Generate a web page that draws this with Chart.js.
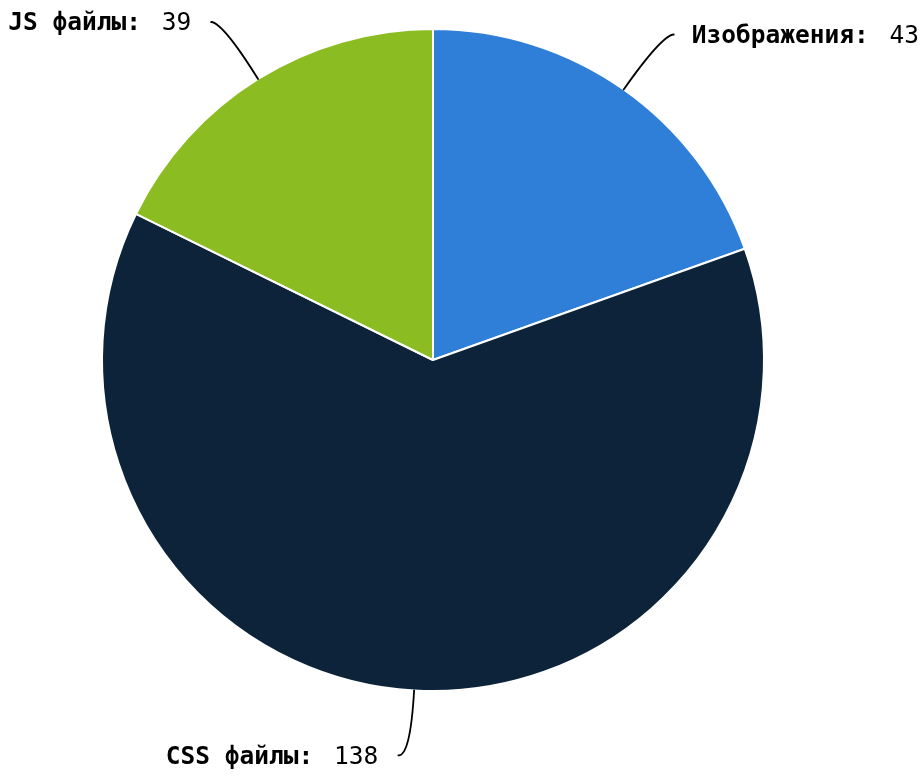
<!DOCTYPE html>
<html>
<head>
<meta charset="utf-8">
<script src="https://cdn.jsdelivr.net/npm/chart.js@4/dist/chart.umd.min.js"></script>
<style>
  html, body { margin: 0; padding: 0; background: #fff; }
  #wrap { width: 923px; height: 778px; }
</style>
</head>
<body>
<div id="wrap"><canvas id="c" width="923" height="778"></canvas></div>
<script>
const categories = ["Изображения", "CSS файлы", "JS файлы"];
const values = [43, 138, 39];
const colors = ["#2f7ed8", "#0d233a", "#8bbc21"];

const labelPlugin = {
  id: 'pieLabels',
  afterDraw(chart) {
    const ctx = chart.ctx;
    const meta = chart.getDatasetMeta(0);
    const boldFont = 'bold 24.5px "DejaVu Sans Mono"';
    const normFont = '24.5px "DejaVu Sans Mono"';
    meta.data.forEach((arc, i) => {
      const p = arc.getProps(['x', 'y', 'startAngle', 'endAngle', 'outerRadius'], true);
      const mid = (p.startAngle + p.endAngle) / 2;
      const r = p.outerRadius;
      const R = r + 66;
      const ex = p.x + r * Math.cos(mid), ey = p.y + r * Math.sin(mid);
      const lx = p.x + R * Math.cos(mid), ly = p.y + R * Math.sin(mid);
      const side = Math.cos(mid) >= 0 ? 1 : -1;
      const endX = lx + side * 12;
      ctx.save();
      ctx.strokeStyle = '#000';
      ctx.lineWidth = 1.8;
      ctx.lineCap = 'round';
      ctx.beginPath();
      ctx.moveTo(ex, ey);
      ctx.quadraticCurveTo(lx, ly, endX, ly - 1);
      ctx.stroke();

      const bold = categories[i] + ':';
      const val = String(values[i]);
      ctx.font = boldFont;
      const bw = ctx.measureText(bold).width;
      ctx.font = normFont;
      const gap = ctx.measureText(' ').width + 6;
      const vw = ctx.measureText(val).width;
      const total = bw + gap + vw;
      const tx = side > 0 ? endX + 18 : endX - 20 - total;
      ctx.fillStyle = '#000';
      ctx.textBaseline = 'middle';
      ctx.textAlign = 'left';
      ctx.font = boldFont;
      ctx.fillText(bold, tx, ly + 1);
      ctx.font = normFont;
      ctx.fillText(val, tx + bw + gap, ly + 1);
      ctx.restore();
    });
  }
};

new Chart(document.getElementById('c'), {
  type: 'pie',
  data: {
    labels: categories,
    datasets: [{
      data: values,
      backgroundColor: colors,
      borderColor: '#ffffff',
      borderWidth: 2
    }]
  },
  options: {
    responsive: false,
    animation: false,
    layout: { padding: { top: 28, bottom: 86, left: 101, right: 158 } },
    plugins: { legend: { display: false }, tooltip: { enabled: false } }
  },
  plugins: [labelPlugin]
});
</script>
</body>
</html>
